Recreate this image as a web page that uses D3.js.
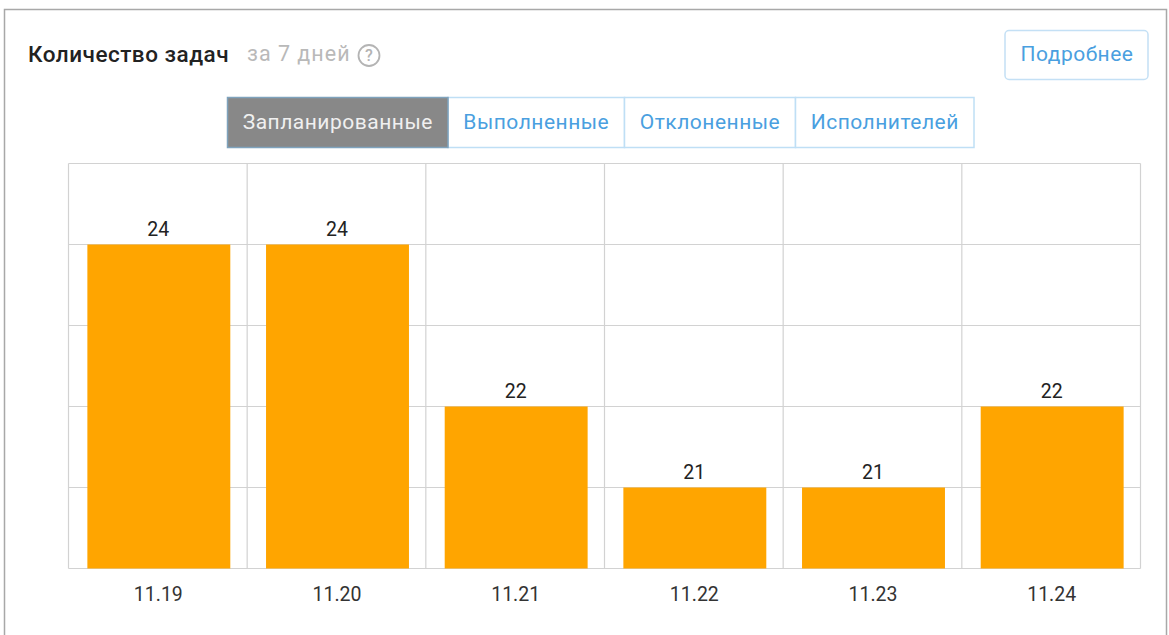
<!DOCTYPE html>
<html><head><meta charset="utf-8">
<script src="https://cdn.jsdelivr.net/npm/d3@7/dist/d3.min.js"></script>
<style>html,body{margin:0;background:#fff}svg{display:block;font-family:Roboto,sans-serif}</style>
</head><body><svg id="c" width="1169" height="635"></svg>
<script>
const categories = ["11.19","11.20","11.21","11.22","11.23","11.24"];
const values = [24,24,22,21,21,22];
const yTicks = [20,21,22,23,24,25];
const tabs = ["Запланированные","Выполненные","Отклоненные","Исполнителей"];
const tabEdges = [227.5,448,624.5,795.5,974];

const svg = d3.select("#c");
svg.append("path").attr("d","M4.5 635V9.5H1166.5V635").attr("fill","none").attr("stroke","#a8a8a8").attr("stroke-width",1.5);

svg.append("text").attr("x",28).attr("y",61.5).attr("font-size",22.5).attr("letter-spacing",0.5).attr("font-weight",500).attr("fill","#222").text("Количество задач");
svg.append("text").attr("x",247).attr("y",61).attr("font-size",21.5).attr("letter-spacing",1).attr("fill","#b9b9b9").text("за 7 дней");
svg.append("circle").attr("cx",369).attr("cy",55.5).attr("r",10.5).attr("fill","none").attr("stroke","#b4b4b4").attr("stroke-width",1.8);
svg.append("text").attr("x",369).attr("y",61).attr("text-anchor","middle").attr("font-size",16).attr("font-weight",500).attr("fill","#b4b4b4").text("?");
svg.append("rect").attr("x",1005).attr("y",30.5).attr("width",143).attr("height",49).attr("rx",4).attr("fill","#fff").attr("stroke","#c4e0f5").attr("stroke-width",1.5);
svg.append("text").attr("x",1077).attr("y",61).attr("text-anchor","middle").attr("font-size",21).attr("letter-spacing",0.5).attr("fill","#4a9fe0").text("Подробнее");

const tabG = svg.append("g").selectAll("g").data(tabs).join("g");
tabG.append("rect").attr("x",(d,i)=>tabEdges[i]).attr("y",97.5)
  .attr("width",(d,i)=>tabEdges[i+1]-tabEdges[i]).attr("height",50)
  .attr("fill",(d,i)=>i===0?"#888888":"#fff").attr("stroke",(d,i)=>i===0?"#7fa3bd":"#bfdff5").attr("stroke-width",1.5);
tabG.filter((d,i)=>i===0).raise();
tabG.append("text").attr("x",(d,i)=>(tabEdges[i]+tabEdges[i+1])/2).attr("y",129).attr("text-anchor","middle")
  .attr("font-size",21).attr("letter-spacing",0.5).attr("fill",(d,i)=>i===0?"#f0f0f0":"#4a9fe0").text(d=>d);

const plot = {l:68.5,r:1140.5,t:163.5,b:568.5};
const barShift = 1;
const x = d3.scaleBand().domain(categories).range([plot.l,plot.r]).paddingInner(0.2).paddingOuter(0.1);
const xGrid = d3.scalePoint().domain(d3.range(categories.length+1)).range([plot.l,plot.r]);
const y = d3.scaleLinear().domain([20,25]).range([plot.b,plot.t]);

const grid = svg.append("g").attr("stroke","#d2d2d2").attr("stroke-width",1.2);
grid.selectAll("line.h").data(yTicks).join("line").attr("class","h")
  .attr("x1",plot.l).attr("x2",plot.r).attr("y1",d=>y(d)).attr("y2",d=>y(d));
grid.selectAll("line.v").data(xGrid.domain()).join("line").attr("class","v")
  .attr("x1",d=>xGrid(d)).attr("x2",d=>xGrid(d)).attr("y1",plot.t).attr("y2",plot.b);

svg.append("g").selectAll("rect").data(values).join("rect")
  .attr("x",(d,i)=>x(categories[i])+barShift).attr("width",x.bandwidth())
  .attr("y",d=>y(d)).attr("height",d=>plot.b-y(d)).attr("fill","#ffa500");

svg.append("g").selectAll("text").data(values).join("text")
  .attr("x",(d,i)=>x(categories[i])+barShift-0.5+x.bandwidth()/2).attr("y",d=>y(d)-8.5)
  .attr("text-anchor","middle").attr("font-size",19.5).attr("fill","#222").text(d=>d);

svg.append("g").selectAll("text").data(categories).join("text")
  .attr("x",d=>x(d)+barShift-0.5+x.bandwidth()/2).attr("y",601)
  .attr("text-anchor","middle").attr("font-size",19.5).attr("fill","#333").text(d=>d);
</script></body></html>
